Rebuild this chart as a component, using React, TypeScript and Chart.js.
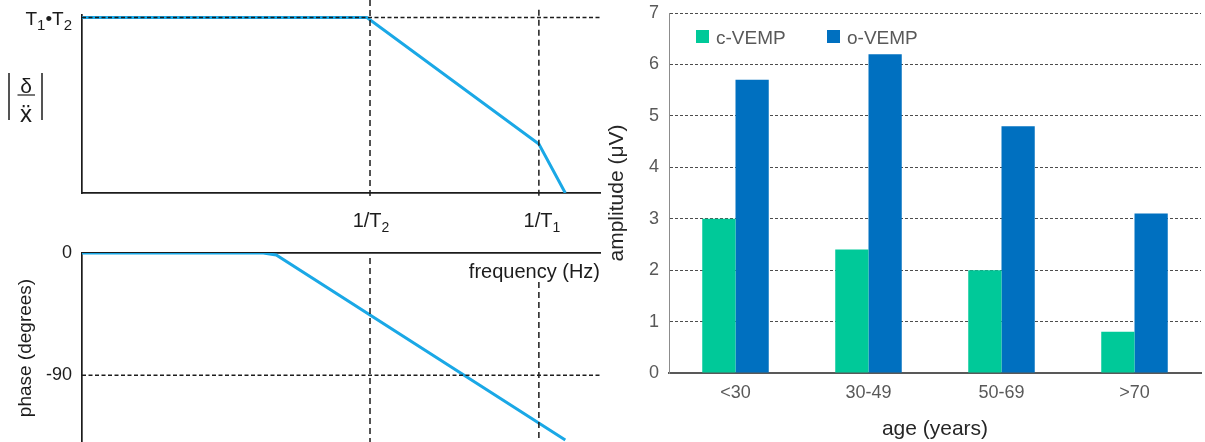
import React, { useEffect, useRef } from 'react';
import { Chart, registerables } from 'chart.js';

Chart.register(...registerables);

const FONT = '"Liberation Sans", Arimo, Arial, "DejaVu Sans", sans-serif';
const INK = '#1c1c1c';
const CURVE = '#1AA8E6';
const GREEN = '#00C999';
const BLUE = '#0070C0';
const TICK_GREY = '#595959';
const TITLE_GREY = '#262626';

// ---- Right panel: VEMP amplitude by age ----
const ageGroups = ['<30', '30-49', '50-69', '>70'];
const cVempAmplitude = [3.0, 2.4, 2.0, 0.8];
const oVempAmplitude = [5.7, 6.2, 4.8, 3.1];
const seriesNames = ['c-VEMP', 'o-VEMP'];
const amplitudeRange = [0, 7];

// ---- Left panels: schematic Bode plot (x = log frequency, arbitrary units) ----
const freqRange = [0, 10];
const cornerT2 = 5.56; // 1/T2
const cornerT1 = 8.82; // 1/T1
const gainPlateau = 9.86; // T1·T2 level
const gainRange = [0, 10];
const gainFreq = [0, 5.5, 8.82, 9.33];
const gainValues = [9.86, 9.86, 2.75, 0];
const gainGuideT2 = [10.84, -0.22];
const gainGuideT1 = [10.3, -0.22];
const phaseRange = [-140, 0];
const phaseFreq = [0, 3.5, 3.75, 9.33];
const phaseValues = [0, 0, -1.5, -137.8];
const phaseTicks = [-90, 0];
const phaseGuideT2 = [-3.7, -140];
const phaseGuideT1 = [-21.4, -140];

const pts = (xs: number[], ys: number[]) => xs.map((x, i) => ({ x, y: ys[i] }));

const fixBox = (w?: number, h?: number) => (s: any) => {
  if (w !== undefined) s.width = w;
  if (h !== undefined) s.height = h;
  s.paddingTop = 0;
  s.paddingBottom = 0;
  s.paddingLeft = 0;
  s.paddingRight = 0;
};

const guide = (data: { x: number; y: number }[], dash: number[]) => ({
  data,
  borderColor: INK,
  borderWidth: 1.5,
  borderDash: dash,
  pointRadius: 0,
  tension: 0,
  fill: false,
  clip: false as any,
  order: 0,
});

type Part = { t: string; s: number; dy?: number };
function drawRich(ctx: CanvasRenderingContext2D, parts: Part[], x: number, y: number, align: 'left' | 'center' | 'right') {
  const widths = parts.map((p) => {
    ctx.font = `${p.s}px ${FONT}`;
    return ctx.measureText(p.t).width;
  });
  const total = widths.reduce((a, b) => a + b, 0);
  let cx = align === 'center' ? x - total / 2 : align === 'right' ? x - total : x;
  ctx.textAlign = 'left';
  ctx.textBaseline = 'alphabetic';
  parts.forEach((p, i) => {
    ctx.font = `${p.s}px ${FONT}`;
    ctx.fillText(p.t, cx, y + (p.dy || 0));
    cx += widths[i];
  });
}

const magnitudeLabels = {
  id: 'magnitudeLabels',
  afterDraw(chart: any) {
    const { ctx, chartArea, scales } = chart;
    const x = scales.x;
    const y = scales.y;
    ctx.save();
    ctx.fillStyle = INK;
    drawRich(
      ctx,
      [
        { t: 'T', s: 19 },
        { t: '1', s: 15, dy: 5 },
        { t: '•', s: 19 },
        { t: 'T', s: 19 },
        { t: '2', s: 15, dy: 5 },
      ],
      chartArea.left - 10,
      y.getPixelForValue(gainPlateau) + 7.5,
      'right'
    );
    drawRich(ctx, [{ t: '1/T', s: 20 }, { t: '2', s: 14, dy: 5 }], x.getPixelForValue(cornerT2) + 1, chartArea.bottom + 34, 'center');
    drawRich(ctx, [{ t: '1/T', s: 20 }, { t: '1', s: 14, dy: 5 }], x.getPixelForValue(cornerT1) + 3, chartArea.bottom + 34, 'center');

    // |δ / ẍ| axis label
    const bx = chartArea.left;
    const top = chartArea.top;
    ctx.strokeStyle = INK;
    ctx.lineWidth = 1.5;
    ctx.beginPath();
    ctx.moveTo(bx - 73, top + 58);
    ctx.lineTo(bx - 73, top + 105);
    ctx.moveTo(bx - 40, top + 58);
    ctx.lineTo(bx - 40, top + 105);
    ctx.stroke();
    ctx.lineWidth = 1.2;
    ctx.beginPath();
    ctx.moveTo(bx - 64.5, top + 80);
    ctx.lineTo(bx - 47, top + 80);
    ctx.stroke();
    ctx.textAlign = 'center';
    ctx.textBaseline = 'alphabetic';
    ctx.font = `21px ${FONT}`;
    ctx.fillText('δ', bx - 56, top + 78);
    ctx.font = `24px ${FONT}`;
    ctx.fillText('ẍ', bx - 56, top + 107);
    ctx.restore();
  },
};

const insideLegend = {
  id: 'insideLegend',
  afterDraw(chart: any) {
    const { ctx, chartArea } = chart;
    const x0 = chartArea.left + 27;
    const y0 = chartArea.top + 17;
    const step = 131;
    ctx.save();
    chart.data.datasets.forEach((ds: any, i: number) => {
      const x = x0 + i * step;
      ctx.fillStyle = ds.backgroundColor;
      ctx.fillRect(x, y0, 13, 13);
      ctx.fillStyle = TICK_GREY;
      ctx.font = `19px ${FONT}`;
      ctx.textAlign = 'left';
      ctx.textBaseline = 'alphabetic';
      ctx.fillText(ds.label, x + 20, y0 + 13.5);
    });
    ctx.restore();
  },
};

export default function App() {
  const magRef = useRef<HTMLCanvasElement>(null);
  const phaseRef = useRef<HTMLCanvasElement>(null);
  const barRef = useRef<HTMLCanvasElement>(null);

  useEffect(() => {
    Chart.defaults.font.family = FONT;
    const hiddenTicks = { display: false };
    const noGrid = { display: false, drawTicks: false };
    const axisBorder = { display: true, color: INK, width: 1.7 };

    const mag = new Chart(magRef.current as HTMLCanvasElement, {
      type: 'line',
      data: {
        datasets: [
          { data: pts(gainFreq, gainValues), borderColor: CURVE, borderWidth: 3, pointRadius: 0, tension: 0, fill: false, order: 1 },
          guide(pts(freqRange, [gainPlateau, gainPlateau]), [4, 2.5]),
          guide(pts([cornerT2, cornerT2], gainGuideT2), [6, 4]),
          guide(pts([cornerT1, cornerT1], gainGuideT1), [6, 4]),
        ] as any,
      },
      options: {
        animation: false,
        responsive: false,
        events: [],
        layout: { padding: { left: 82, right: 10, top: 15, bottom: 52 }, autoPadding: false } as any,
        plugins: { legend: { display: false }, tooltip: { enabled: false } },
        scales: {
          x: { type: 'linear', position: 'bottom', min: freqRange[0], max: freqRange[1], grid: noGrid, ticks: hiddenTicks, border: axisBorder, afterFit: fixBox(undefined, 0) } as any,
          y: { type: 'linear', position: 'left', min: gainRange[0], max: gainRange[1], grid: noGrid, ticks: hiddenTicks, border: axisBorder, afterFit: fixBox(0) } as any,
        },
      },
      plugins: [magnitudeLabels],
    });

    const phase = new Chart(phaseRef.current as HTMLCanvasElement, {
      type: 'line',
      data: {
        datasets: [
          { data: pts(phaseFreq, phaseValues), borderColor: CURVE, borderWidth: 3, pointRadius: 0, tension: 0, fill: false, order: 1 },
          guide(pts(freqRange, [-90, -90]), [4, 2.5]),
          guide(pts([cornerT2, cornerT2], phaseGuideT2), [6, 4]),
          guide(pts([cornerT1, cornerT1], phaseGuideT1), [6, 4]),
        ] as any,
      },
      options: {
        animation: false,
        responsive: false,
        events: [],
        layout: { padding: { left: 0, right: 10, top: 8, bottom: 0 }, autoPadding: false } as any,
        plugins: { legend: { display: false }, tooltip: { enabled: false } },
        scales: {
          x: {
            type: 'linear',
            position: 'top',
            min: freqRange[0],
            max: freqRange[1],
            grid: noGrid,
            ticks: hiddenTicks,
            border: axisBorder,
            title: { display: true, text: 'frequency (Hz)', align: 'end', color: INK, font: { size: 20 }, padding: { top: 7, bottom: 0 } },
            afterFit: fixBox(undefined, 0),
          } as any,
          y: {
            type: 'linear',
            position: 'left',
            min: phaseRange[0],
            max: phaseRange[1],
            grid: noGrid,
            border: axisBorder,
            afterBuildTicks: (s: any) => {
              s.ticks = phaseTicks.map((v) => ({ value: v }));
            },
            ticks: { display: true, color: INK, font: { size: 18 }, padding: 10, callback: (v: any) => String(v) },
            title: { display: true, text: 'phase (degrees)', color: INK, font: { size: 19 }, padding: { top: 14, bottom: 0 } },
            afterFit: fixBox(82),
          } as any,
        },
      },
    });

    const bars = new Chart(barRef.current as HTMLCanvasElement, {
      type: 'bar',
      data: {
        labels: ageGroups,
        datasets: [
          { label: seriesNames[0], data: cVempAmplitude, backgroundColor: GREEN, categoryPercentage: 0.5, barPercentage: 1 },
          { label: seriesNames[1], data: oVempAmplitude, backgroundColor: BLUE, categoryPercentage: 0.5, barPercentage: 1 },
        ],
      },
      options: {
        animation: false,
        responsive: false,
        events: [],
        layout: { padding: { left: 0, right: 4, top: 13, bottom: 0 }, autoPadding: false } as any,
        plugins: { legend: { display: false }, tooltip: { enabled: false } },
        scales: {
          x: {
            type: 'category',
            grid: { display: false, drawTicks: false },
            border: { display: true, color: TICK_GREY, width: 2 },
            ticks: { color: TICK_GREY, font: { size: 18 }, padding: 9 },
            title: { display: true, text: 'age (years)', color: TITLE_GREY, font: { size: 21 }, padding: { top: 0, bottom: 0 } },
            afterFit: fixBox(undefined, 69),
          } as any,
          y: {
            type: 'linear',
            min: amplitudeRange[0],
            max: amplitudeRange[1],
            ticks: { stepSize: 1, color: TICK_GREY, font: { size: 18 }, padding: 10 },
            grid: { color: '#4d4d4d', lineWidth: 1, drawTicks: false },
            border: { display: true, color: '#8c8c8c', width: 1, dash: [3, 2] },
            title: { display: true, text: 'amplitude (μV)', color: TITLE_GREY, font: { size: 21 }, padding: { top: 5, bottom: 0 } },
            afterFit: fixBox(69),
          } as any,
        },
      },
      plugins: [insideLegend],
    });

    return () => {
      mag.destroy();
      phase.destroy();
      bars.destroy();
    };
  }, []);

  return (
    <div style={{ position: 'absolute', left: 0, top: 0, width: 1205, height: 442, background: '#ffffff', overflow: 'hidden' }}>
      <canvas ref={magRef} width={610} height={245} style={{ position: 'absolute', left: 0, top: 0, width: 610, height: 245 }} />
      <canvas ref={phaseRef} width={610} height={198} style={{ position: 'absolute', left: 0, top: 245, width: 610, height: 198 }} />
      <canvas ref={barRef} width={605} height={442} style={{ position: 'absolute', left: 600, top: 0, width: 605, height: 442 }} />
    </div>
  );
}
